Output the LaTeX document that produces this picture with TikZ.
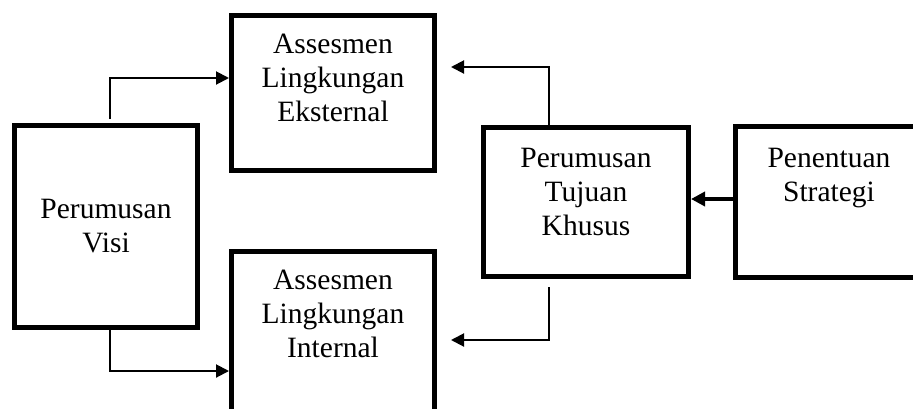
\documentclass[tikz,border=0pt]{standalone}
\usepackage{fontspec}
\setmainfont{Liberation Serif}
\usetikzlibrary{arrows.meta, positioning}

\tikzset{
  box/.style = {draw, line width=5pt, inner sep=0pt},
  txt/.style = {align=center, text width=200pt, inner sep=0pt, anchor=base,
                font=\fontsize{29.5}{34}\selectfont},
  arr/.style = {-{Triangle[length=13pt, width=13pt]}, line width=2pt},
}

\begin{document}
\begin{tikzpicture}[x=1pt, y=-1pt]
    \clip (0,0) rectangle (913,408);
    \useasboundingbox (0,0) rectangle (913,408);

    % boxes
    \node[box, minimum width=183pt, minimum height=202pt] (visi) at (106,226.5) {};
    \node[box, minimum width=203pt, minimum height=155pt] (eks) at (333,93) {};
    \node[box, minimum width=203pt, minimum height=177pt] (int) at (333,340) {};
    \node[box, minimum width=205pt, minimum height=149pt] (tujuan) at (586,202) {};
    \node[box, minimum width=220pt, minimum height=151pt] (strategi) at (845.5,201.5) {};

    % texts
    \node[txt] (visi-t) at (106,218) {Perumusan\\Visi};
    \node[txt] (eks-t) at (333,53) {Assesmen\\Lingkungan\\Eksternal};
    \node[txt] (int-t) at (333,289) {Assesmen\\Lingkungan\\Internal};
    \node[txt] (tujuan-t) at (586,167) {Perumusan\\Tujuan\\Khusus};
    \node[txt] (strategi-t) at (829,167) {Penentuan\\Strategi};

    % arrows
    \draw[arr, shorten <=4pt] ([xshift=4pt]visi.north) |- ([yshift=15pt]eks.west);
    \draw[arr] ([xshift=4pt]visi.south) |- ([yshift=-31pt]int.west);
    \draw[arr, shorten >=14pt] ([xshift=-37pt]tujuan.north) |- ([yshift=26pt]eks.east);
    \draw[arr, shorten <=8pt, shorten >=14pt] ([xshift=-37pt]tujuan.south) |- (int.east);
    \draw[-{Triangle[length=14pt, width=14pt]}, line width=3.5pt]
        ([yshift=2.5pt]strategi.west) -- ([yshift=3pt]tujuan.east);
\end{tikzpicture}
\end{document}
